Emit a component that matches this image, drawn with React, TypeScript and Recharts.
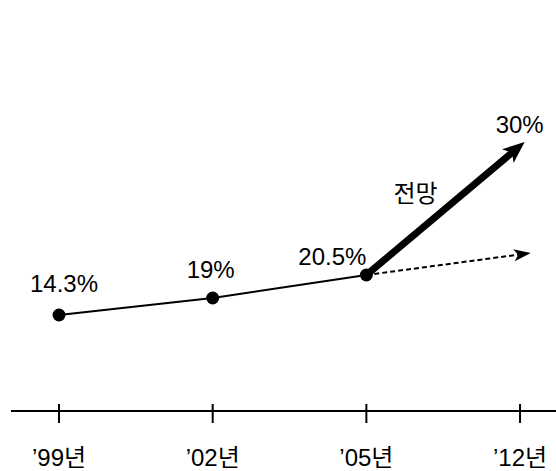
import React from 'react';
import { LineChart, Line, XAxis, YAxis, LabelList, ReferenceLine } from 'recharts';

// category ticks along the bottom axis
const years = ['’99년', '’02년', '’05년', '’12년'];
// plotted heights of the measured points (schematic scale, 0-100)
const levels = [24, 28.25, 34];
const shareLabels = ['14.3%', '19%', '20.5%'];
// forecast arrow ('12) and flat trend arrow
const forecastTip = { x: 3.03, y: 67.25 };
const forecastLabel = '30%';
const forecastCaption = '전망';
const trendTip = { x: 3.07, y: 39.5 };

const FONT = '"Liberation Sans", Arial, "Noto Sans CJK KR", sans-serif';
const FS = 24;

const data = levels.map((y, i) => ({ x: i, y, label: shareLabels[i] }));
const last = data[data.length - 1];

// per-point label offsets (px)
const labelOffsets = [
  [5, -32],
  [-2, -29],
  [-34, -19],
];

function arrowHead(x1: number, y1: number, x2: number, y2: number, len: number, half: number) {
  const a = Math.atan2(y2 - y1, x2 - x1);
  const bx = x2 - len * Math.cos(a);
  const by = y2 - len * Math.sin(a);
  const px = -Math.sin(a) * half;
  const py = Math.cos(a) * half;
  const bx2 = x2 - len * 0.75 * Math.cos(a);
  const by2 = y2 - len * 0.75 * Math.sin(a);
  return `${x2},${y2} ${bx + px},${by + py} ${bx2},${by2} ${bx - px},${by - py}`;
}

const ForecastArrow = (p: any) => {
  const { x1, y1, x2, y2 } = p;
  const a = Math.atan2(y2 - y1, x2 - x1);
  const ex = x2 - 14 * Math.cos(a);
  const ey = y2 - 14 * Math.sin(a);
  return (
    <g>
      <line x1={x1} y1={y1} x2={ex} y2={ey} stroke="#000" strokeWidth={7} />
      <polygon points={arrowHead(x1, y1, x2, y2, 22, 9)} fill="#000" />
      <text x={x2 - 5} y={y2 - 18} textAnchor="middle" dominantBaseline="central"
        fontSize={FS} fontFamily={FONT} fill="#000">{forecastLabel}</text>
      <text x={(x1 + x2) / 2 - 30} y={(y1 + y2) / 2 - 15} textAnchor="middle" dominantBaseline="central"
        fontSize={FS} fontFamily={FONT} fill="#000">{forecastCaption}</text>
    </g>
  );
};

const TrendArrow = (p: any) => {
  const { x1, y1, x2, y2 } = p;
  const a = Math.atan2(y2 - y1, x2 - x1);
  const ex = x2 - 12 * Math.cos(a);
  const ey = y2 - 12 * Math.sin(a);
  return (
    <g>
      <line x1={x1} y1={y1} x2={ex} y2={ey} stroke="#000" strokeWidth={2} strokeDasharray="5 3" />
      <polygon points={arrowHead(x1, y1, x2, y2, 17, 6)} fill="#000" />
    </g>
  );
};

const YearTick = (p: any) => {
  const { x, y, payload } = p;
  return (
    <g>
      <line x1={x} x2={x} y1={y - 7} y2={y + 12} stroke="#000" strokeWidth={2} />
      <text x={x} y={y + 46} textAnchor="middle" dominantBaseline="central"
        fontSize={FS} fontFamily={FONT} fill="#000">{years[payload.value]}</text>
    </g>
  );
};

const PointLabel = (p: any) => {
  const { x, y, index, value } = p;
  const [dx, dy] = labelOffsets[index] || [0, -25];
  return (
    <text x={x + dx} y={y + dy} textAnchor="middle" dominantBaseline="central"
      fontSize={FS} fontFamily={FONT} fill="#000">{value}</text>
  );
};

export default function App() {
  return (
    <div style={{ position: 'absolute', left: 0, top: 0, background: '#fff' }}>
      <LineChart width={556} height={471} data={data} margin={{ top: 11, right: 0, bottom: 0, left: 11 }}>
        <XAxis
          type="number"
          dataKey="x"
          domain={[-0.3125, 3.234]}
          allowDataOverflow
          ticks={[0, 1, 2, 3]}
          tickSize={0}
          tickMargin={0}
          height={60}
          axisLine={{ stroke: '#000', strokeWidth: 2 }}
          tickLine={false}
          tick={<YearTick />}
        />
        <YAxis type="number" domain={[0, 100]} allowDataOverflow hide />
        <ReferenceLine segment={[{ x: last.x, y: last.y }, trendTip]} shape={TrendArrow} ifOverflow="visible" />
        <ReferenceLine segment={[{ x: last.x, y: last.y }, forecastTip]} shape={ForecastArrow} ifOverflow="visible" />
        <Line
          dataKey="y"
          stroke="#000"
          strokeWidth={2}
          dot={{ r: 6.5, fill: '#000', stroke: '#000', strokeWidth: 0 }}
          isAnimationActive={false}
        >
          <LabelList dataKey="label" content={<PointLabel />} />
        </Line>
      </LineChart>
    </div>
  );
}
